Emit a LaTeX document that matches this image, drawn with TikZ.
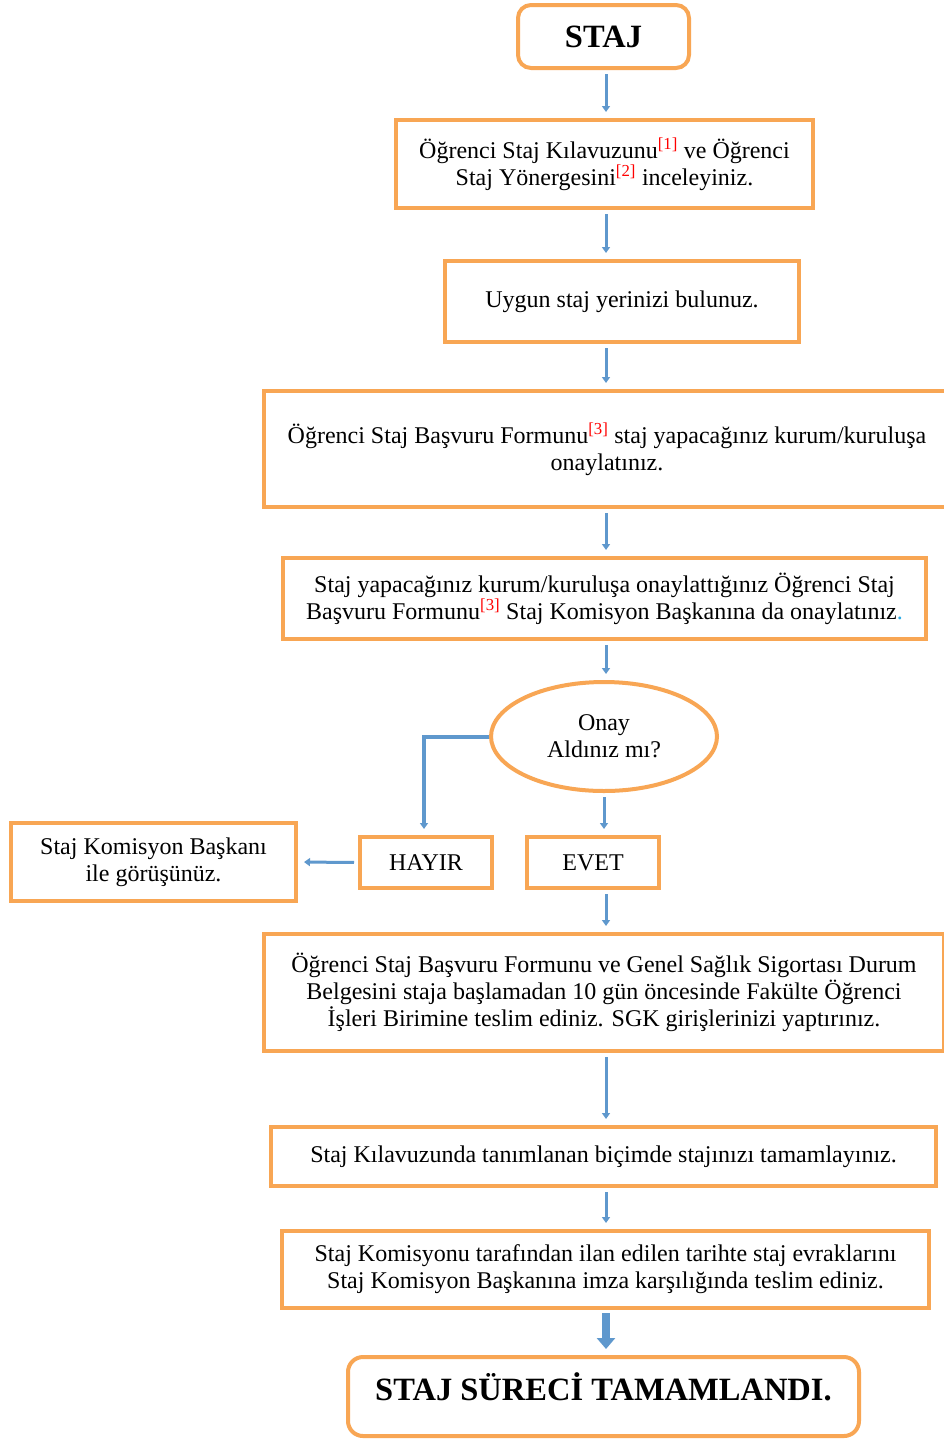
\documentclass[tikz,border=0pt]{standalone}
\usepackage{fontspec}
\setmainfont{Liberation Serif}
\usetikzlibrary{arrows.meta,shapes.geometric}
\definecolor{boxorange}{RGB}{248,166,84}
\definecolor{flowblue}{RGB}{95,152,205}
\definecolor{dotblue}{RGB}{40,170,230}
\newcommand{\refmark}[1]{\textsuperscript{\color{red}[#1]}}
\tikzset{
  box/.style={draw=boxorange, line width=4pt, fill=white, align=center, inner sep=0pt,
    font=\fontsize{24}{27}\selectfont},
  roundbox/.style={box, rounded corners=13pt, font=\fontsize{32.5}{34}\selectfont\bfseries},
  decision/.style={box, ellipse},
  flow/.style={draw=flowblue, line width=3pt, -{Triangle[width=8pt,length=6pt]},
    shorten <=4pt, shorten >=6pt},
  flowthick/.style={draw=flowblue, line width=4pt, -{Triangle[width=8pt,length=6pt]}},
  flowbig/.style={draw=flowblue, line width=8pt, -{Triangle[width=18pt,length=11pt]},
    shorten <=3pt, shorten >=6pt}
}
\begin{document}
\begin{tikzpicture}[x=1pt,y=-1pt]
\useasboundingbox (0,0) rectangle (944,1441);
\clip (0,0) rectangle (944,1441);
\fill[white] (0,0) rectangle (944,1441);

\node[roundbox, minimum width=171pt, minimum height=63pt] (staj) at (603.5,36.5) {STAJ};
\node[box, minimum width=417pt, minimum height=88pt] (b2) at (604.5,164)
  {Öğrenci Staj Kılavuzunu\refmark{1} ve Öğrenci\\Staj Yönergesini\refmark{2} inceleyiniz.};
\node[box, minimum width=354pt, minimum height=81pt] (b3) at (622,301.5)
  {Uygun staj yerinizi bulunuz.};
\node[box, minimum width=686pt, minimum height=116pt] (b4) at (607,449)
  {Öğrenci Staj Başvuru Formunu\refmark{3} staj yapacağınız kurum/kuruluşa\\onaylatınız.};
\node[box, minimum width=643pt, minimum height=81pt] (b5) at (604.5,598.5)
  {Staj yapacağınız kurum/kuruluşa onaylattığınız Öğrenci Staj\\Başvuru Formunu\refmark{3} Staj Komisyon Başkanına da onaylatınız\textcolor{dotblue}{.}};
\node[decision, minimum width=226pt, minimum height=109pt] (onay) at (604,736.5)
  {Onay\\Aldınız mı?};
\node[box, minimum width=132pt, minimum height=51pt] (hayir) at (426,862.5) {HAYIR};
\node[box, minimum width=132pt, minimum height=51pt] (evet) at (593,862.5) {EVET};
\node[box, minimum width=285pt, minimum height=78pt] (gor) at (153.5,862)
  {Staj Komisyon Başkanı\\ile görüşünüz.};
\node[box, minimum width=680pt, minimum height=117pt] (b8) at (604,992.5)
  {Öğrenci Staj Başvuru Formunu ve Genel Sağlık Sigortası Durum\\Belgesini staja başlamadan 10 gün öncesinde Fakülte Öğrenci\\İşleri Birimine teslim ediniz. SGK girişlerinizi yaptırınız.};
\node[box, minimum width=665pt, minimum height=59pt] (b9) at (603.5,1156.5)
  {Staj Kılavuzunda tanımlanan biçimde stajınızı tamamlayınız.};
\node[box, minimum width=647pt, minimum height=77pt] (b10) at (605.5,1269.5)
  {Staj Komisyonu tarafından ilan edilen tarihte staj evraklarını\\Staj Komisyon Başkanına imza karşılığında teslim ediniz.};
\node[roundbox, minimum width=511pt, minimum height=79pt, rounded corners=15pt,
  text height=24pt, text depth=16pt] (son) at (603.5,1396.5) {STAJ SÜRECİ TAMAMLANDI.};

\coordinate (c1) at (606,0);
\coordinate (e1) at (604,0);
\coordinate (h1) at (424,0);
\draw[flow] (staj.south -| c1) -- (b2.north -| c1);
\draw[flow] (b2.south -| c1) -- (b3.north -| c1);
\draw[flow] (b3.south -| c1) -- (b4.north -| c1);
\draw[flow] (b4.south -| c1) -- (b5.north -| c1);
\draw[flow] (b5.south -| c1) -- (onay.north -| c1);
\draw[flow] (onay.south -| e1) -- (evet.north -| e1);
\draw[flowthick, shorten >=6pt] (onay.west) -| (hayir.north -| h1);
\draw[flow] (hayir.west) -- (gor.east);
\draw[flow] (evet.south -| c1) -- (b8.north -| c1);
\draw[flow] (b8.south -| c1) -- (b9.north -| c1);
\draw[flow] (b9.south -| c1) -- (b10.north -| c1);
\draw[flowbig] (b10.south -| c1) -- (son.north -| c1);
\end{tikzpicture}
\end{document}
